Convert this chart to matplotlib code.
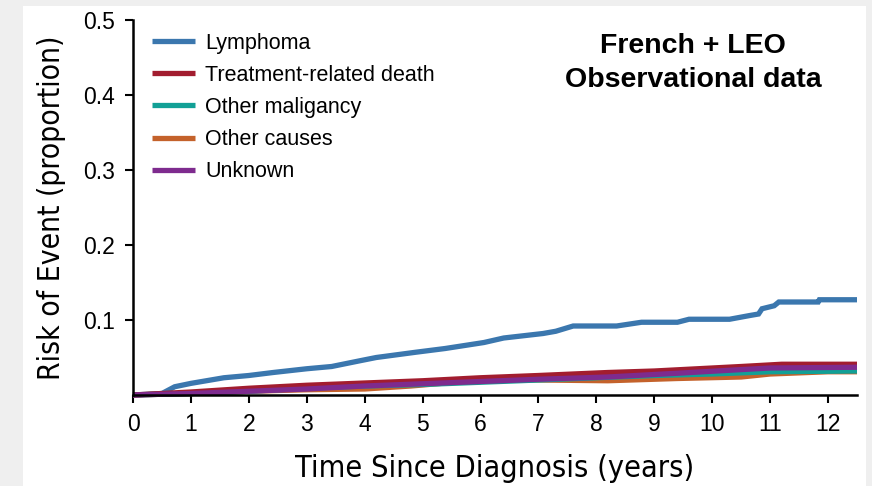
import matplotlib.pyplot as plt
from matplotlib.patches import Rectangle

# cumulative incidence curves (years, proportion)
lymph_t = [0, 0.5, 0.72, 1.0, 1.57, 2.0, 2.42, 3.0, 3.43, 3.94, 4.2, 4.88, 5.39,
           6.06, 6.4, 7.08, 7.3, 7.6, 8.35, 8.78, 9.4, 9.6, 10.3, 10.65, 10.8,
           10.86, 11.07, 11.15, 11.83, 11.85, 12.5]
lymph_y = [0, 0.002, 0.011, 0.0155, 0.023, 0.026, 0.030, 0.035, 0.038, 0.046, 0.050,
           0.057, 0.062, 0.070, 0.076, 0.082, 0.085, 0.092, 0.092, 0.097, 0.097,
           0.101, 0.101, 0.106, 0.108, 0.115, 0.119, 0.124, 0.124, 0.127, 0.127]

trd_t = [0, 1, 2, 3, 4, 5, 6, 7, 8.2, 9.0, 10.5, 11.2, 12.5]
trd_y = [0, 0.004, 0.009, 0.013, 0.016, 0.019, 0.023, 0.026, 0.030, 0.032, 0.038, 0.041, 0.041]

mal_t = [0, 1, 2, 3, 4, 5, 6, 7, 8, 9, 10, 11, 12.5]
mal_y = [0, 0.002, 0.005, 0.009, 0.012, 0.014, 0.017, 0.020, 0.023, 0.026, 0.028, 0.031, 0.032]

oth_t = [0, 1, 2, 3, 4, 4.8, 6.0, 7, 8.2, 9.4, 10.5, 11.0, 12.0, 12.5]
oth_y = [0, 0.002, 0.005, 0.007, 0.008, 0.012, 0.020, 0.020, 0.019, 0.022, 0.024, 0.028, 0.031, 0.031]

unk_t = [0, 1, 2, 3, 4, 5, 6, 7, 8.2, 9.4, 10.3, 11.0, 12.5]
unk_y = [0, 0.002, 0.005, 0.008, 0.012, 0.015, 0.018, 0.021, 0.024, 0.029, 0.033, 0.036, 0.037]

labels = ["Lymphoma", "Treatment-related death", "Other maligancy", "Other causes", "Unknown"]
colors = ["#3b77ae", "#a21d2f", "#12a096", "#c4622b", "#7e2b8e"]

fig = plt.figure(figsize=(8.72, 4.86), dpi=100, facecolor="#efefef")
fig.add_artist(Rectangle((23 / 872, 0), 843 / 872, 480 / 486,
                         transform=fig.transFigure, facecolor="white",
                         edgecolor="none", zorder=-5))

ax = fig.add_axes([133 / 872, 1 - 395 / 486, 724 / 872, 375 / 486])
ax.set_facecolor("none")
ax.set_zorder(2)

series = [(lymph_t, lymph_y), (trd_t, trd_y), (mal_t, mal_y), (oth_t, oth_y), (unk_t, unk_y)]
draw_order = [0, 3, 2, 1, 4]
for i in draw_order:
    t, y = series[i]
    ax.plot(t, y, color=colors[i], lw=3.8, label=labels[i],
            solid_capstyle="butt", solid_joinstyle="miter", clip_on=False)

ax.set_xlim(0, 12.5)
ax.set_ylim(0, 0.5)
ax.set_xticks(range(13))
ax.set_yticks([0.1, 0.2, 0.3, 0.4, 0.5])
ax.set_yticklabels(["0.1", "0.2", "0.3", "0.4", "0.5"])
for s in ["top", "right"]:
    ax.spines[s].set_visible(False)
for s in ["left", "bottom"]:
    ax.spines[s].set_linewidth(1.8)
ax.tick_params(direction="out", length=6, width=1.5, labelsize=16.5, pad=7)
for lab in ax.get_xticklabels() + ax.get_yticklabels():
    lab.set_family("Liberation Sans")

ax.set_xlabel("Time Since Diagnosis (years)", fontsize=22, family="DejaVu Sans",
              fontstretch="condensed", labelpad=13)
ax.set_ylabel("Risk of Event (proportion)", fontsize=21.5, family="DejaVu Sans",
              fontstretch="condensed", labelpad=12)

handles, labs = ax.get_legend_handles_labels()
order = [labs.index(l) for l in labels]
ax.legend([handles[k] for k in order], labels, loc="upper left",
          bbox_to_anchor=(0.0, 1.018), frameon=False,
          prop={"family": "Liberation Sans", "size": 15.5},
          handlelength=2.0, handletextpad=0.45, labelspacing=0.52)

fig.text(693 / 872, 1 - 46 / 486, "French + LEO", ha="center", va="center",
         fontsize=20.5, fontweight="bold", family="Liberation Sans")
fig.text(693 / 872, 1 - 80 / 486, "Observational data", ha="center", va="center",
         fontsize=20.5, fontweight="bold", family="Liberation Sans")

fig.savefig("out.png", dpi=100, facecolor=fig.get_facecolor())
